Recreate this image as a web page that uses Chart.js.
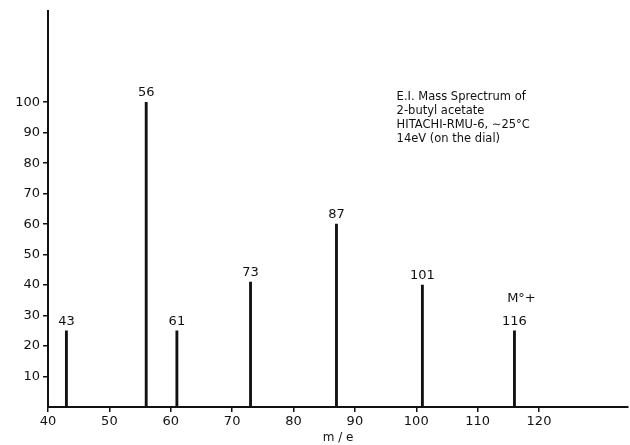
<!DOCTYPE html>
<html>
<head>
<meta charset="utf-8">
<script src="https://cdn.jsdelivr.net/npm/chart.js@4/dist/chart.umd.min.js"></script>
<style>
html,body{margin:0;padding:0;background:#fff;}
#wrap{width:630px;height:445px;}
</style>
</head>
<body>
<div id="wrap"><canvas id="c" width="630" height="445"></canvas></div>
<script>
const massToCharge = [43, 56, 61, 73, 87, 101, 116];
const intensity = [25, 100, 25, 41, 60, 40, 25];
const peakLabels = ["43", "56", "61", "73", "87", "101", "116"];
const xTickValues = [40, 50, 60, 70, 80, 90, 100, 110, 120];
const yTickValues = [10, 20, 30, 40, 50, 60, 70, 80, 90, 100];
const noteLines = ["E.I. Mass Sprectrum of", "2-butyl acetate", "HITACHI-RMU-6, \u223C25\u00B0C", "14eV (on the dial)"];
const moleculeIonLabel = "M\u00B0+";
const FONT = "'DejaVu Sans', sans-serif";

const labelPlugin = {
  id: 'peakLabels',
  afterDatasetsDraw(chart) {
    const ctx = chart.ctx;
    const xs = chart.scales.x, ys = chart.scales.y;
    ctx.save();
    ctx.fillStyle = '#111';
    ctx.font = '13px ' + FONT;
    ctx.textAlign = 'center';
    ctx.textBaseline = 'bottom';
    massToCharge.forEach((m, i) => {
      const px = xs.getPixelForValue(m);
      const py = ys.getPixelForValue(intensity[i]);
      ctx.fillText(peakLabels[i], px, py - 3);
    });
    const pi = massToCharge.length - 1;
    ctx.fillText(moleculeIonLabel, xs.getPixelForValue(massToCharge[pi]) + 7, ys.getPixelForValue(intensity[pi]) - 26);
    ctx.font = '11.5px ' + FONT;
    ctx.textAlign = 'left';
    ctx.textBaseline = 'middle';
    const nx = xs.getPixelForValue(96.8);
    let ny = ys.getPixelForValue(101.6);
    noteLines.forEach(t => { ctx.fillText(t, nx, ny); ny += 14; });
    ctx.restore();
  }
};

new Chart(document.getElementById('c'), {
  type: 'bar',
  data: {
    datasets: [{
      data: massToCharge.map((m, i) => ({x: m, y: intensity[i]})),
      backgroundColor: '#111',
      borderWidth: 0,
      barThickness: 2.2
    }]
  },
  options: {
    responsive: false,
    animation: false,
    layout: {padding: {top: 10, right: 2, left: 0, bottom: 0}},
    plugins: {legend: {display: false}, tooltip: {enabled: false}},
    scales: {
      x: {
        type: 'linear',
        min: 40,
        max: 134.5,
        offset: false,
        afterBuildTicks(s) { s.ticks = xTickValues.map(v => ({value: v})); },
        ticks: {color: '#111', font: {family: FONT, size: 13}, padding: 2, maxRotation: 0, autoSkip: false},
        grid: {display: true, offset: false, drawOnChartArea: false, drawTicks: true, tickLength: 5, color: '#111', lineWidth: 1.5},
        border: {display: true, color: '#111', width: 2},
        title: {display: true, text: 'm / e', color: '#111', font: {family: FONT, size: 12}, padding: {top: 0, bottom: 0}},
        afterFit(s) { s.height = 38; }
      },
      y: {
        type: 'linear',
        min: 0,
        max: 130,
        afterBuildTicks(s) { s.ticks = yTickValues.map(v => ({value: v})); },
        ticks: {color: '#111', font: {family: FONT, size: 13}, padding: 3, autoSkip: false},
        grid: {display: true, drawOnChartArea: false, drawTicks: true, tickLength: 5, color: '#111', lineWidth: 1.5},
        border: {display: true, color: '#111', width: 2},
        afterFit(s) { s.width = 48; }
      }
    }
  },
  plugins: [labelPlugin]
});
</script>
</body>
</html>
